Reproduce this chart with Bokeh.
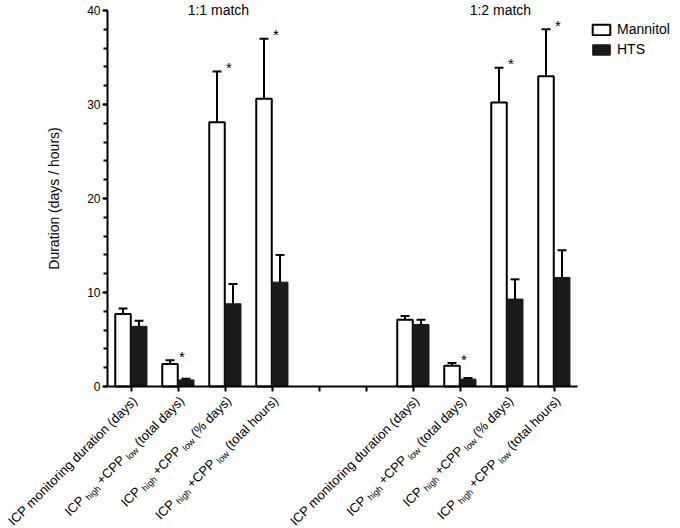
import math
from bokeh.plotting import figure
from bokeh.models import (Range1d, SingleIntervalTicker, FixedTicker, Label,
                          ColumnDataSource, Legend, LegendItem)
from bokeh.core.properties import value
from bokeh.transform import dodge
from bokeh.embed import file_html
from bokeh.resources import INLINE

# ---------------- data ----------------
groups = ["1:1 match", "1:2 match"]
measure_parts = [
    [("ICP monitoring duration (days)", False)],
    [("ICP", False), ("high", True), ("+CPP", False), ("low", True), ("(total days)", False)],
    [("ICP", False), ("high", True), ("+CPP", False), ("low", True), ("(% days)", False)],
    [("ICP", False), ("high", True), ("+CPP", False), ("low", True), ("(total hours)", False)],
]
series = ["Mannitol", "HTS"]

mannitol_11 = [7.7, 2.4, 28.1, 30.6]
mannitol_11_sem = [0.6, 0.4, 5.4, 6.4]
hts_11 = [6.4, 0.7, 8.8, 11.1]
hts_11_sem = [0.6, 0.12, 2.1, 2.9]

mannitol_12 = [7.1, 2.2, 30.2, 33.0]
mannitol_12_sem = [0.4, 0.3, 3.7, 5.0]
hts_12 = [6.6, 0.78, 9.3, 11.6]
hts_12_sem = [0.5, 0.12, 2.1, 2.9]

significant = [False, True, True, True]

# ---------------- layout constants ----------------
FONT = "Liberation Sans"
W, H = 680, 528
AXIS_X_PX = 107      # screen column of the y axis (x = -0.5)
Y0_PX = 386          # screen row of y = 0
PX_X = 47.0
PX_Y = 9.4
X_START = -0.5 - AXIS_X_PX / PX_X
X_END = X_START + W / PX_X
Y_END = Y0_PX / PX_Y
Y_START = -(H - Y0_PX) / PX_Y
GROUP_STEP = 6
OFF = 0.17

xs, man, man_top, hts, hts_top, sig = [], [], [], [], [], []
for g, (mv, ms, hv, hs) in enumerate([(mannitol_11, mannitol_11_sem, hts_11, hts_11_sem),
                                        (mannitol_12, mannitol_12_sem, hts_12, hts_12_sem)]):
    for i in range(len(mv)):
        xs.append(g * GROUP_STEP + i)
        man.append(mv[i]); man_top.append(mv[i] + ms[i])
        hts.append(hv[i]); hts_top.append(hv[i] + hs[i])
        sig.append(significant[i])

src = ColumnDataSource(dict(x=xs, man=man, man_top=man_top, hts=hts, hts_top=hts_top))

p = figure(width=W, height=H, output_backend="svg", toolbar_location=None,
           x_range=Range1d(X_START, X_END), y_range=Range1d(Y_START, Y_END),
           min_border_left=0, min_border_right=0, min_border_top=0, min_border_bottom=0)
p.outline_line_color = None
p.xgrid.visible = False
p.ygrid.visible = False
p.background_fill_color = "white"
p.border_fill_color = "white"

rm = p.vbar(x=dodge("x", -OFF), top="man", width=0.33, fill_color="white",
            line_color="black", line_width=2, source=src)
rh = p.vbar(x=dodge("x", OFF), top="hts", width=0.34, fill_color="#1a1a1a",
            line_color="#1a1a1a", line_width=1, source=src)

CAP = 0.095
for key, off in [("m", -OFF), ("h", OFF)]:
    bx = [x + off for x in xs]
    tops = man_top if key == "m" else hts_top
    base = man if key == "m" else hts
    es = ColumnDataSource(dict(x=bx, x0=[b - CAP for b in bx], x1=[b + CAP for b in bx],
                               y0=base, y1=tops))
    p.segment(x0="x", y0="y0", x1="x", y1="y1", source=es, line_color="black", line_width=2)
    p.segment(x0="x0", y0="y1", x1="x1", y1="y1", source=es, line_color="black", line_width=2)

# significance asterisks (to the right of the Mannitol cap)
star_x = [x - OFF + 12 / PX_X for x, s in zip(xs, sig) if s]
star_y = [t + 4 / PX_Y for t, s in zip(man_top, sig) if s]
star_src = ColumnDataSource(dict(x=star_x, y=star_y, t=["*"] * len(star_x)))
p.text(x="x", y="y", text="t", source=star_src, text_align="center", text_baseline="middle",
       text_font=value(FONT), text_font_size="15px", text_color="black")

# axes (drawn at fixed data locations so the frame can span the whole canvas)
p.yaxis.fixed_location = -0.5
p.yaxis.ticker = SingleIntervalTicker(interval=10, num_minor_ticks=5)
p.yaxis.bounds = (0, 40)
p.yaxis.axis_line_width = 2
p.yaxis.major_tick_line_width = 2
p.yaxis.minor_tick_line_width = 2
p.yaxis.major_tick_out = 5
p.yaxis.major_tick_in = 0
p.yaxis.minor_tick_out = 4
p.yaxis.minor_tick_in = 0
p.yaxis.major_label_text_font = FONT
p.yaxis.major_label_text_font_size = "12px"
p.yaxis.major_label_text_color = "black"
p.yaxis.major_label_standoff = 2
p.yaxis.axis_label = "Duration (days / hours)"
p.yaxis.axis_label_text_font = FONT
p.yaxis.axis_label_text_font_size = "14px"
p.yaxis.axis_label_text_font_style = "normal"
p.yaxis.axis_label_text_color = "black"
p.yaxis.axis_label_standoff = 22

p.xaxis.fixed_location = 0
p.xaxis.ticker = FixedTicker(ticks=list(range(10)))
p.xaxis.bounds = (-0.5, 9.5)
p.xaxis.axis_line_width = 2
p.xaxis.major_tick_line_width = 2
p.xaxis.major_tick_out = 5
p.xaxis.major_tick_in = 0
p.xaxis.minor_tick_line_color = None
p.xaxis.major_label_overrides = {i: "" for i in range(10)}
p.xaxis.major_label_standoff = 0
p.xaxis.major_label_text_font_size = "1px"

# category labels (rotated, with subscripts)
AFM = {' ': 278, '%': 889, '(': 333, ')': 333, '+': 584, 'C': 722, 'I': 278, 'P': 667,
       'a': 556, 'd': 556, 'g': 556, 'h': 556, 'i': 222, 'l': 222, 'm': 833, 'n': 556,
       'o': 556, 'r': 333, 's': 500, 't': 278, 'u': 556, 'w': 722, 'y': 500}


def tw(s, size):
    return sum(AFM.get(ch, 556) for ch in s) * size / 1000.0


MAIN, SUB, GAP, DROP = 13, 9, 3.0, 4.0
c = s = math.sqrt(0.5)
for g in range(len(groups)):
    for i, parts in enumerate(measure_parts):
        xpos = g * GROUP_STEP + i
        d = 0.0
        for text, is_sub in reversed(parts):
            size = SUB if is_sub else MAIN
            ox, oy = -d * c, -d * s
            if is_sub:
                ox += DROP * s
                oy -= DROP * c
            p.add_layout(Label(x=xpos, y=0, x_offset=4 + ox, y_offset=-12 + oy, text=text,
                               angle=math.pi / 4, text_align="right", text_baseline="middle",
                               text_font=FONT, text_font_size=f"{size}px", text_color="black"))
            d += tw(text, size) + GAP

# group titles
for g, name in enumerate(groups):
    p.add_layout(Label(x=g * GROUP_STEP + 1.86, y=40 + 1 / PX_Y, text=name,
                       text_align="center", text_baseline="middle", text_font=FONT,
                       text_font_size="14px", text_color="black"))

legend = Legend(items=[LegendItem(label=series[0], renderers=[rm]),
                       LegendItem(label=series[1], renderers=[rh])],
                location=(590, H - 21 - 36), padding=0, margin=0, spacing=4,
                glyph_width=22, glyph_height=13, label_height=13, label_standoff=5,
                label_text_font=FONT, label_text_font_size="14px", label_text_color="black",
                border_line_alpha=0, background_fill_alpha=0)
p.add_layout(legend)

open("out.html", "w").write(file_html(p, INLINE))
